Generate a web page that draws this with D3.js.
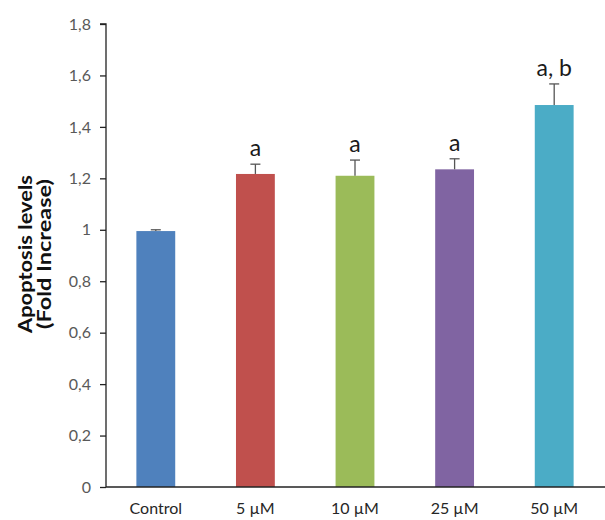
<!DOCTYPE html>
<html>
<head>
<meta charset="utf-8">
<script src="https://cdn.jsdelivr.net/npm/d3@7"></script>
<style>
  body { margin: 0; background: #fff; }
  text { font-family: Lato, "Open Sans", sans-serif; }
</style>
</head>
<body>
<div id="chart"></div>
<script>
// data
const groups = ["Control", "5 \u00b5M", "10 \u00b5M", "25 \u00b5M", "50 \u00b5M"];
const means = [0.995, 1.217, 1.21, 1.235, 1.485];
const errors = [0.005, 0.038, 0.061, 0.041, 0.082];
const letters = ["", "a", "a", "a", "a, b"];
const colors = ["#4f81bd", "#c0504d", "#9bbb59", "#8064a2", "#4bacc6"];
const yTicks = [0, 0.2, 0.4, 0.6, 0.8, 1, 1.2, 1.4, 1.6, 1.8];

const width = 605, height = 520;
const margin = {left: 106, right: 1, top: 24, bottom: 33};

const svg = d3.select("#chart").append("svg")
    .attr("width", width)
    .attr("height", height);

const x = d3.scaleBand()
    .domain(groups)
    .range([margin.left, width - margin.right])
    .paddingInner(0.61)
    .paddingOuter(0.305);

const y = d3.scaleLinear()
    .domain([0, 1.8])
    .range([height - margin.bottom, margin.top]);

// bars
svg.append("g")
  .selectAll("rect")
  .data(groups)
  .join("rect")
    .attr("x", d => x(d))
    .attr("y", (d, i) => y(means[i]))
    .attr("width", x.bandwidth())
    .attr("height", (d, i) => y(0) - y(means[i]))
    .attr("fill", (d, i) => colors[i]);

// error bars (upper only)
const err = svg.append("g").attr("stroke", "#555").attr("stroke-width", 1.3);
groups.forEach((g, i) => {
  const cx = x(g) + x.bandwidth() / 2;
  err.append("line")
    .attr("x1", cx).attr("x2", cx)
    .attr("y1", y(means[i])).attr("y2", y(means[i] + errors[i]));
  err.append("line")
    .attr("x1", cx - 5).attr("x2", cx + 5)
    .attr("y1", y(means[i] + errors[i])).attr("y2", y(means[i] + errors[i]));
});

// significance letters
svg.append("g")
  .selectAll("text")
  .data(groups)
  .join("text")
    .attr("x", d => x(d) + x.bandwidth() / 2)
    .attr("y", (d, i) => y(means[i] + errors[i]) - 8)
    .attr("text-anchor", "middle")
    .attr("font-size", 23)
    .attr("fill", "#1a1a1a")
    .text((d, i) => letters[i]);

// y axis
const yAxis = svg.append("g")
    .attr("transform", `translate(${margin.left},0)`)
    .call(d3.axisLeft(y)
      .tickValues(yTicks)
      .tickSize(6)
      .tickPadding(9)
      .tickFormat(d => String(d).replace(".", ",")));
yAxis.select(".domain").attr("stroke", "#222").attr("stroke-width", 1.3).attr("d", `M-6,${y(1.8)}H0V${y(0)}`);
yAxis.selectAll(".tick line").attr("stroke", "#222").attr("stroke-width", 1.3);
yAxis.selectAll(".tick text").attr("font-size", 16).attr("fill", "#595959");

// x axis
const xAxis = svg.append("g")
    .attr("transform", `translate(0,${y(0)})`)
    .call(d3.axisBottom(x).tickSize(0).tickPadding(16));
xAxis.select(".domain").attr("stroke", "#222").attr("stroke-width", 1.3)
    .attr("d", `M${margin.left},0H${width}`);
xAxis.selectAll(".tick text").attr("font-size", 16).attr("fill", "#262626");

// y title
const title = svg.append("text")
    .attr("transform", `translate(32,254) rotate(-90)`)
    .attr("text-anchor", "middle")
    .attr("font-size", 19)
    .attr("font-weight", "bold")
    .attr("fill", "#111");
title.append("tspan").attr("x", 0).attr("dy", 0)
    .attr("textLength", 158).attr("lengthAdjust", "spacingAndGlyphs")
    .text("Apoptosis levels");
title.append("tspan").attr("x", 0).attr("dy", 19)
    .attr("textLength", 150).attr("lengthAdjust", "spacingAndGlyphs")
    .text("(Fold Increase)");
</script>
</body>
</html>
